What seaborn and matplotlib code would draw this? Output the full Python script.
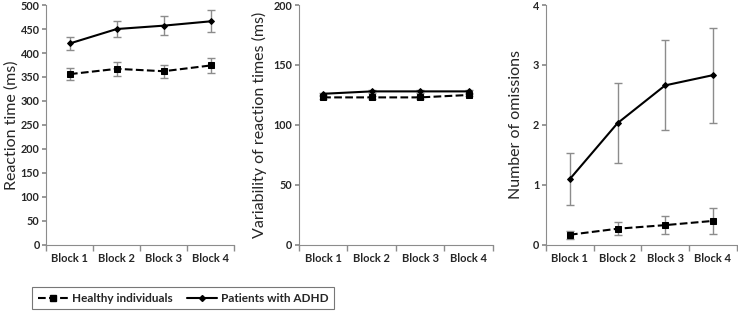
import numpy as np
import pandas as pd
import seaborn as sns
import matplotlib.pyplot as plt
from matplotlib.ticker import FixedLocator

sns.set_theme(style="white")
plt.rcParams['font.family'] = ['Lato', 'DejaVu Sans']

blocks = ["Block 1", "Block 2", "Block 3", "Block 4"]
groups = ["Healthy individuals", "Patients with ADHD"]

# reaction time (ms)
rt_healthy = [356, 367, 362, 374]
rt_healthy_err = [13, 14, 14, 16]
rt_adhd = [420, 450, 457, 466]
rt_adhd_err = [14, 16, 20, 23]

# variability of reaction times (ms)
var_healthy = [123, 123, 123, 125]
var_healthy_err = [1, 1, 1, 1]
var_adhd = [126, 128, 128, 128]
var_adhd_err = [1, 1, 1, 1]

# number of omissions
om_healthy = [0.17, 0.27, 0.33, 0.40]
om_healthy_err = [0.07, 0.11, 0.15, 0.21]
om_adhd = [1.10, 2.03, 2.66, 2.83]
om_adhd_err = [0.43, 0.67, 0.75, 0.79]

panels = [
    ("Reaction time (ms)", rt_healthy, rt_healthy_err, rt_adhd, rt_adhd_err, 500, 50),
    ("Variability of reaction times (ms)", var_healthy, var_healthy_err, var_adhd, var_adhd_err, 200, 50),
    ("Number of omissions", om_healthy, om_healthy_err, om_adhd, om_adhd_err, 4, 1),
]
lefts = [0.063, 0.405, 0.740]
widths = [0.254, 0.263, 0.258]
label_x = [-0.148, -0.165, -0.12]

fig = plt.figure(figsize=(7.38, 3.14), dpi=100)
styles = {groups[0]: dict(ls="--", marker="s", ms=5), groups[1]: dict(ls="-", marker="D", ms=3)}

for (label, h, he, a, ae, ymax, step), left, w, lx in zip(panels, lefts, widths, label_x):
    ax = fig.add_axes([left, 0.22, w, 0.764])
    x = np.arange(len(blocks))
    df = pd.DataFrame({
        "block": np.tile(x, 2),
        "value": h + a,
        "group": np.repeat(groups, len(blocks)),
    })
    for g, err in zip(groups, [he, ae]):
        sub = df[df.group == g]
        ax.errorbar(sub.block, sub.value, yerr=err, fmt="none", ecolor="#8c8c8c",
                    elinewidth=1, capsize=3, capthick=1, zorder=1)
        st = styles[g]
        sns.lineplot(data=sub, x="block", y="value", ax=ax, color="black",
                     linestyle=st["ls"], marker=st["marker"], markersize=st["ms"],
                     markeredgecolor="black", linewidth=1.5, zorder=3, legend=False)
    ax.set_xlim(-0.5, 3.5)
    ax.set_ylim(0, ymax)
    ax.set_yticks(np.arange(0, ymax + step / 2, step))
    ax.set_xticks(x)
    ax.set_xticklabels(blocks, fontsize=8, fontweight="bold")
    ax.xaxis.set_minor_locator(FixedLocator([-0.5, 0.5, 1.5, 2.5, 3.5]))
    ax.tick_params(axis="x", which="major", length=0, pad=6)
    ax.tick_params(axis="x", which="minor", length=4, color="#8c8c8c", direction="out", bottom=True)
    ax.tick_params(axis="y", length=3, color="#8c8c8c", direction="out", left=True,
                   labelsize=7.8, pad=2)
    for t in ax.get_yticklabels():
        t.set_fontweight("bold")
    ax.set_xlabel("")
    ax.set_ylabel(label, fontsize=11.5)
    ax.yaxis.set_label_coords(lx, 0.5)
    sns.despine(ax=ax)
    for s in ["left", "bottom"]:
        ax.spines[s].set_color("#8c8c8c")
        ax.spines[s].set_linewidth(0.8)

handles = [
    plt.Line2D([], [], color="black", ls="--", marker="s", ms=5, lw=1.5),
    plt.Line2D([], [], color="black", ls="-", marker="D", ms=3, lw=1.5),
]
leg = fig.legend(handles, groups, loc="center", bbox_to_anchor=(0.248, 0.05), ncol=2,
                 frameon=True, fancybox=False, edgecolor="#555555", handlelength=2.6,
                 handletextpad=0.3, columnspacing=1.2,
                 prop={"weight": "bold", "size": 8.5}, borderpad=0.45)
leg.get_frame().set_linewidth(0.8)

fig.savefig("out.png", dpi=100)
